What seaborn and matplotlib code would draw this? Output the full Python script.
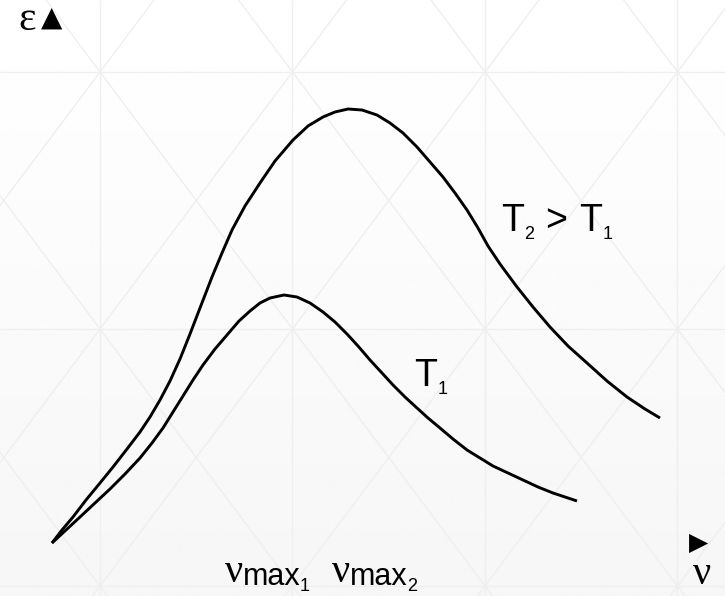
import numpy as np
import pandas as pd
import matplotlib
matplotlib.use("Agg")
import matplotlib.pyplot as plt
import seaborn as sns

# Emissivity curves eps(nu) for two temperatures (arbitrary units)
nu_t2 = [0.00, 0.10, 0.21, 0.34, 0.48, 0.61, 0.75, 0.88, 0.98, 1.08,
         1.18, 1.28, 1.38, 1.48, 1.60, 1.70, 1.80, 1.93, 2.08, 2.23,
         2.41, 2.56, 2.71, 2.83, 2.96, 3.10, 3.25, 3.38, 3.51, 3.65,
         3.78, 3.91, 4.03, 4.15, 4.26, 4.36, 4.48, 4.65, 4.81, 4.98,
         5.16, 5.35, 5.55, 5.75, 5.93, 6.08]
eps_t2 = [0.00, 0.13, 0.26, 0.43, 0.60, 0.76, 0.94, 1.11, 1.26, 1.43,
          1.62, 1.84, 2.09, 2.35, 2.66, 2.90, 3.13, 3.37, 3.60, 3.82,
          4.03, 4.17, 4.26, 4.31, 4.34, 4.33, 4.28, 4.20, 4.10, 3.96,
          3.81, 3.66, 3.50, 3.33, 3.15, 2.97, 2.79, 2.56, 2.36, 2.16,
          1.97, 1.80, 1.62, 1.46, 1.34, 1.25]

nu_t1 = [0.00, 0.14, 0.28, 0.43, 0.58, 0.73, 0.88, 1.00, 1.11, 1.21,
         1.31, 1.41, 1.51, 1.63, 1.75, 1.87, 1.98, 2.08, 2.18, 2.32,
         2.45, 2.58, 2.71, 2.83, 2.95, 3.06, 3.18, 3.30, 3.41, 3.53,
         3.65, 3.76, 3.88, 4.01, 4.15, 4.28, 4.41, 4.56, 4.71, 4.86,
         5.01, 5.13, 5.25]
eps_t1 = [0.00, 0.13, 0.26, 0.40, 0.54, 0.69, 0.85, 1.00, 1.15, 1.31,
          1.47, 1.63, 1.78, 1.94, 2.08, 2.22, 2.32, 2.40, 2.45, 2.48,
          2.46, 2.40, 2.31, 2.21, 2.09, 1.97, 1.83, 1.70, 1.58, 1.46,
          1.35, 1.25, 1.15, 1.04, 0.93, 0.85, 0.77, 0.70, 0.63, 0.56,
          0.50, 0.46, 0.42]

curve_names = ["T2", "T1"]

sns.set_theme(style="white")
plt.rcParams["font.family"] = ["Liberation Sans", "DejaVu Sans"]

W, H = 725, 596
fig = plt.figure(figsize=(W / 100, H / 100), dpi=100)

# ---- background: soft vertical gradient with a diamond lattice ----
bg = fig.add_axes([0, 0, 1, 1])
bg.set_autoscale_on(False)
bg.set_xlim(0, W)
bg.set_ylim(H, 0)
grad = np.linspace(1.0, 0.965, 256)[:, None]
bg.imshow(grad, cmap="gray", vmin=0, vmax=1, extent=(0, W, H, 0),
          aspect="auto", zorder=0, interpolation="bilinear")

cw, ch = 192.5, 257.0
x0, y0 = 100.0, 72.0
grid_kw = dict(color="#efefef", lw=1.0, zorder=1, solid_capstyle="butt")
for k in range(-1, 5):
    bg.axvline(x0 + k * cw, **grid_kw)
for k in range(-1, 3):
    bg.axhline(y0 + k * ch, **grid_kw)
v = np.array([-2.0, 4.0])
for n in range(-6, 9):
    bg.plot(x0 + (n + v) * cw, y0 + v * ch, **grid_kw)
    bg.plot(x0 + (n - v) * cw, y0 + v * ch, **grid_kw)
bg.axis("off")

# ---- curves ----
ax = fig.add_axes([0, 0, 1, 1])
ax.patch.set_alpha(0)
df = pd.concat([
    pd.DataFrame({"nu": nu_t2, "eps": eps_t2, "curve": curve_names[0]}),
    pd.DataFrame({"nu": nu_t1, "eps": eps_t1, "curve": curve_names[1]}),
], ignore_index=True)
sns.lineplot(data=df, x="nu", y="eps", hue="curve",
             palette={"T2": "black", "T1": "black"}, legend=False,
             sort=False, estimator=None, lw=2.1, ax=ax,
             solid_joinstyle="round", solid_capstyle="butt")
ax.set_xlim(-0.52, 6.73)
ax.set_ylim(-0.53, 5.43)
ax.axis("off")

# ---- labels (pixel coordinates of the background layer) ----
serif = ["Liberation Serif", "DejaVu Serif"]
sym = ["DejaVu Sans"]

# axis arrows and symbols
bg.text(27, 30, "ε", family=serif, size=30, ha="center", va="baseline", color="black")
bg.text(52, 18, "▲", family=sym, size=20, ha="center", va="center", color="black")
bg.text(699, 543, "▶", family=sym, size=18, ha="center", va="center", color="black")
bg.text(702, 584, "ν", family=serif, size=29, ha="center", va="baseline", color="black")

# T2 > T1
bg.text(501, 231, "T", size=27, va="baseline", color="black")
bg.text(524, 239, "2", size=13, va="baseline", color="black")
bg.text(545, 231, ">", size=27, va="baseline", color="black")
bg.text(579, 231, "T", size=27, va="baseline", color="black")
bg.text(603, 239, "1", size=13, va="baseline", color="black")

# T1
bg.text(414, 386, "T", size=27, va="baseline", color="black")
bg.text(438, 394, "1", size=13, va="baseline", color="black")

# nu_max1, nu_max2
bg.text(234, 582, "ν", family=serif, size=29, ha="center", va="baseline", color="black")
bg.text(243, 585, "max", size=22, va="baseline", color="black")
bg.text(300, 591, "1", size=13, va="baseline", color="black")
bg.text(341, 582, "ν", family=serif, size=29, ha="center", va="baseline", color="black")
bg.text(350, 585, "max", size=22, va="baseline", color="black")
bg.text(407, 591, "2", size=13, va="baseline", color="black")

fig.savefig("out.png", dpi=100)
